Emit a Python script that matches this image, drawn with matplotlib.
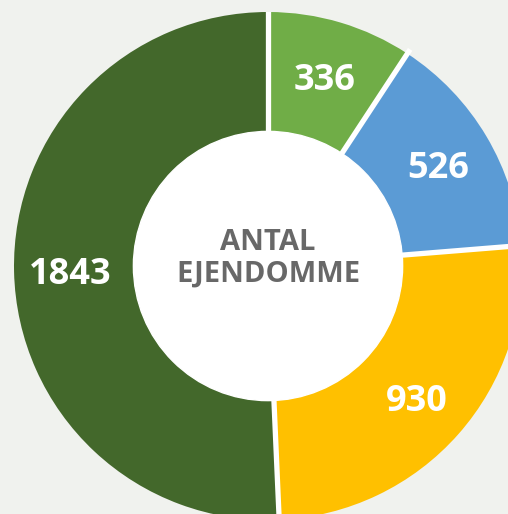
import numpy as np
import matplotlib.pyplot as plt

values = [336, 526, 930, 1843]
colors = ["#70AD47", "#5B9BD5", "#FFC000", "#43682B"]
center_label = "ANTAL\nEJENDOMME"

plt.rcParams['font.family'] = ['Open Sans', 'DejaVu Sans']

fig = plt.figure(figsize=(5.08, 5.14), dpi=100)
fig.patch.set_facecolor("#F0F2EE")
# axes placed so the ring is cropped on the right and bottom like the original
ax = fig.add_axes([14 / 508, -6 / 514, 508 / 508, 508 / 514])
ax.set_facecolor("none")

wedges, texts, autotexts = ax.pie(
    values,
    colors=colors,
    startangle=90,
    counterclock=False,
    radius=1,
    wedgeprops=dict(width=0.53, linewidth=0),
    autopct=lambda p: "{:d}".format(int(round(p * sum(values) / 100))),
    pctdistance=0.78,
    textprops=dict(color="white", fontsize=26, fontweight="bold"),
)
for t in autotexts:
    x, y = t.get_position()
    t.set_position((x, y - 0.018))

# white hole and white separators between slices
ax.add_patch(plt.Circle((0, 0), 0.53, color="white", zorder=3))
bounds = np.cumsum([0] + values) / sum(values)
for b in bounds[:-1]:
    ang = np.deg2rad(90 - 360 * b)
    ax.plot([0.5 * np.cos(ang), 1.02 * np.cos(ang)],
            [0.5 * np.sin(ang), 1.02 * np.sin(ang)],
            color="white", linewidth=3.8, zorder=2, solid_capstyle="butt")

ax.text(0, 0.03, center_label, ha="center", va="center", fontsize=21,
        fontweight="bold", color="#686868", linespacing=1.12, zorder=4)

ax.set_xlim(-1, 1)
ax.set_ylim(-1, 1)
ax.set_aspect("equal")
ax.axis("off")

fig.savefig("out.png", dpi=100, facecolor=fig.get_facecolor())
